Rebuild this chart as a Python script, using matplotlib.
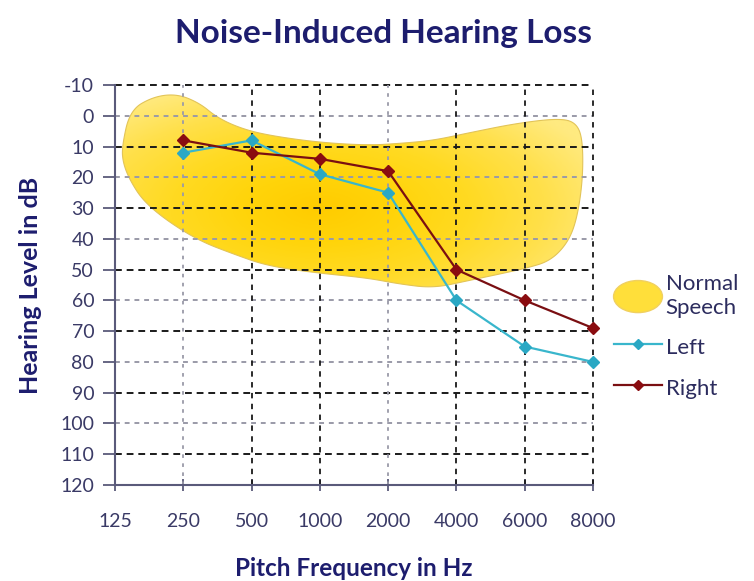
import numpy as np
import matplotlib
matplotlib.use("Agg")
import matplotlib.pyplot as plt
from matplotlib.patches import Polygon, Ellipse, Patch
from matplotlib.lines import Line2D
from matplotlib.legend_handler import HandlerPatch
from matplotlib.colors import LinearSegmentedColormap

# ---------------- data ----------------
freq_labels = ["125", "250", "500", "1000", "2000", "4000", "6000", "8000"]
db_ticks = [-10, 0, 10, 20, 30, 40, 50, 60, 70, 80, 90, 100, 110, 120]
pts_freq = ["250", "500", "1000", "2000", "4000", "6000", "8000"]
left_ear = [12, 8, 19, 25, 60, 75, 80]
right_ear = [8, 12, 14, 18, 50, 60, 69]
# outline of the "normal speech" region (x = frequency slot index, y = dB)
speech_x = [0.10, 0.22, 0.56, 0.91, 1.24, 1.49, 1.83, 2.23, 2.96, 3.69, 4.17, 4.66,
            5.15, 5.89, 6.52, 6.76, 6.85, 6.85, 6.76, 6.62, 6.37, 6.03, 5.64, 5.15,
            4.66, 4.17, 3.69, 2.96, 2.23, 1.73, 1.24, 0.76, 0.41, 0.22, 0.12]
speech_y = [10.2, -1.8, -6.2, -7.1, -4.1, 0.5, 4.0, 6.3, 8.6, 9.6, 9.0, 8.0,
            5.7, 2.4, 0.8, 2.4, 8.0, 21.0, 34.1, 41.6, 47.2, 49.5, 51.4, 53.7,
            56.0, 54.7, 52.7, 51.1, 48.8, 44.9, 40.7, 34.1, 27.6, 21.0, 15.5]

NAVY = "#1d1d6e"
TICKC = "#3a3a66"
LEFTC = "#39b6cc"
RIGHTC = "#7a0f12"

plt.rcParams["font.family"] = ["Lato", "DejaVu Sans"]

fig = plt.figure(figsize=(7.54, 5.81), dpi=100)
ax = fig.add_axes([115 / 754, 1 - 485 / 581, 478 / 754, 400 / 581])

xpos = np.arange(len(freq_labels))
ax.set_xlim(0, len(freq_labels) - 1)
ax.set_ylim(120, -10)

# ---- normal speech blob (smoothed closed outline) ----
def chaikin(x, y, n=4):
    p = np.column_stack([x, y])
    for _ in range(n):
        q = 0.75 * p + 0.25 * np.roll(p, -1, axis=0)
        r = 0.25 * p + 0.75 * np.roll(p, -1, axis=0)
        p = np.empty((2 * len(q), 2))
        p[0::2] = q
        p[1::2] = r
    return p

outline = chaikin(speech_x, speech_y)
blob = Polygon(outline, closed=True, facecolor="none", edgecolor="#e2c458",
               linewidth=0.8, zorder=1)
ax.add_patch(blob)
gx, gy = np.meshgrid(np.linspace(0, 7, 300), np.linspace(-10, 120, 300))
cx, cy = 3.0, 30.0
dist = np.sqrt(((gx - cx) / 4.0) ** 2 + ((gy - cy) / 40.0) ** 2)
cmap = LinearSegmentedColormap.from_list("yl", ["#ffcc00", "#ffd40a", "#ffda22", "#ffe04a", "#ffea80"])
im = ax.imshow(dist, extent=(0, 7, 120, -10), origin="upper", cmap=cmap,
               vmin=0.0, vmax=1.1, aspect="auto", zorder=0.5, interpolation="bilinear")
clip = Polygon(outline, closed=True, transform=ax.transData)
im.set_clip_path(clip)

# ---- grid ----
for v in db_ticks[:-1]:
    if v % 20 != 0:
        ax.axhline(v, color="#1a1a1a", lw=1.4, ls=(0, (3.5, 2.5)), zorder=2, clip_on=False)
    else:
        ax.axhline(v, color="#9a9aa8", lw=1.4, ls=(0, (2.5, 2.5)), zorder=2)
grey_cols = {"250", "2000"}
for i, lab in enumerate(freq_labels[1:], start=1):
    if lab in grey_cols:
        ax.axvline(i, color="#9a9aa8", lw=1.3, ls=(0, (2, 3)), zorder=2)
    else:
        ax.axvline(i, color="#1a1a1a", lw=1.3, ls=(0, (3, 3)), zorder=2, clip_on=False)

# ---- series ----
idx = [freq_labels.index(f) for f in pts_freq]
ax.plot(idx, left_ear, color=LEFTC, lw=1.6, marker="D", ms=6, mfc="#2aa8c4",
        mec="#2aa8c4", zorder=4, clip_on=False, label="Left")
ax.plot(idx, right_ear, color=RIGHTC, lw=1.6, marker="D", ms=6, mfc="#8a0c10",
        mec="#8a0c10", zorder=5, clip_on=False, label="Right")

# ---- axes styling ----
for s in ["top", "right"]:
    ax.spines[s].set_visible(False)
for s in ["left", "bottom"]:
    ax.spines[s].set_color("#5a5a7a")
    ax.spines[s].set_linewidth(1.5)
ax.set_yticks(db_ticks)
ax.set_yticklabels([str(v) for v in db_ticks])
ax.set_xticks(xpos)
ax.set_xticklabels(freq_labels)
ax.tick_params(axis="y", direction="out", length=9, width=1.3, color="#5a5a7a",
               labelsize=14, labelcolor=TICKC, pad=6)
ax.tick_params(axis="x", direction="inout", length=9, width=1.3, color="#5a5a7a",
               labelsize=14, labelcolor=TICKC, pad=16)

ax.set_xlabel("Pitch Frequency in Hz", fontsize=17.5, fontweight="bold", color=NAVY, labelpad=19)
ax.set_ylabel("Hearing Level in dB", fontsize=18, fontweight="bold", color=NAVY, labelpad=13)
fig.suptitle("Noise-Induced Hearing Loss", x=0.508, y=0.968, fontsize=24,
             fontweight="bold", color=NAVY)

# ---- legend ----
class HandlerEllipse(HandlerPatch):
    def create_artists(self, legend, orig_handle, xdescent, ydescent, width, height,
                       fontsize, trans):
        center = (0.5 * width - xdescent, 0.5 * height - ydescent)
        p = Ellipse(xy=center, width=width, height=height * 1.25)
        self.update_prop(p, orig_handle, legend)
        p.set_transform(trans)
        return [p]

speech_handle = Patch(facecolor="#ffdf3a", edgecolor="#f0d060", label="Normal\nSpeech")
handles = [speech_handle,
           Line2D([], [], color=LEFTC, lw=1.6, marker="D", ms=5, mfc="#2aa8c4", mec="#2aa8c4"),
           Line2D([], [], color=RIGHTC, lw=1.6, marker="D", ms=5, mfc="#8a0c10", mec="#8a0c10")]
leg = fig.legend(handles, ["Normal\nSpeech", "Left", "Right"],
                 handler_map={Patch: HandlerEllipse()},
                 loc="upper left", bbox_to_anchor=(598 / 754, 1 - 258 / 581),
                 frameon=False, fontsize=16, handlelength=2.2, handleheight=1.4,
                 handletextpad=0.15, labelspacing=0.7, borderpad=0.2)
for t in leg.get_texts():
    t.set_color("#2c2c5e")
    t.set_linespacing(1.3)

fig.savefig("out.png", dpi=100)
